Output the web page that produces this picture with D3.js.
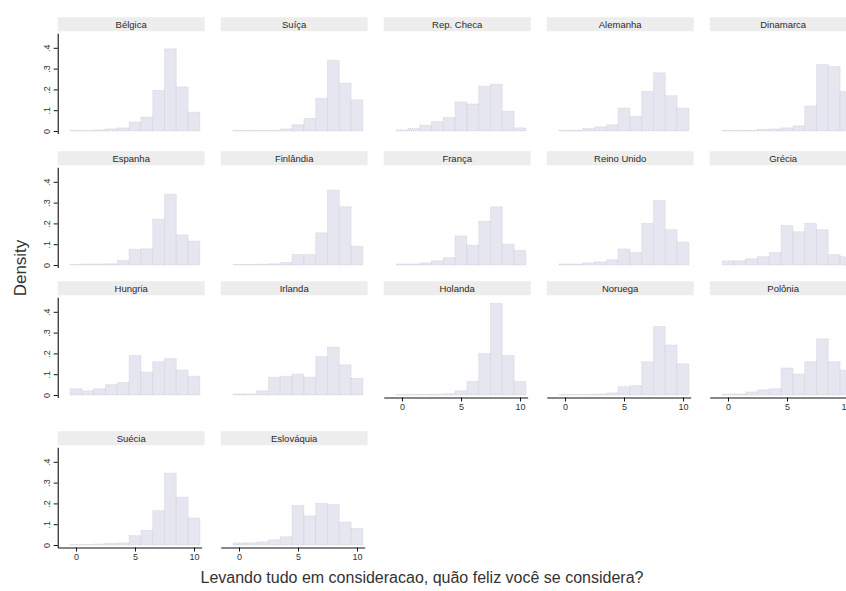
<!DOCTYPE html>
<html>
<head>
<meta charset="utf-8">
<script src="https://cdn.jsdelivr.net/npm/d3@7"></script>
<style>
  html, body { margin: 0; padding: 0; background: #ffffff; }
  svg { display: block; font-family: "Liberation Sans", Arial, Helvetica, sans-serif; }
</style>
</head>
<body>
<script>
// Happiness scores 0..10, density per score, one histogram per country
const scores = [0, 1, 2, 3, 4, 5, 6, 7, 8, 9, 10];

const belgica     = [0.003, 0.002, 0.005, 0.010, 0.015, 0.043, 0.067, 0.195, 0.395, 0.212, 0.090];
const suica       = [0.003, 0.003, 0.003, 0.003, 0.010, 0.030, 0.060, 0.157, 0.340, 0.230, 0.150];
const repCheca    = [0.005, 0.012, 0.028, 0.045, 0.065, 0.140, 0.130, 0.215, 0.225, 0.095, 0.015];
const alemanha    = [0.003, 0.004, 0.012, 0.020, 0.030, 0.110, 0.070, 0.190, 0.280, 0.170, 0.110];
const dinamarca   = [0.003, 0.003, 0.003, 0.008, 0.010, 0.015, 0.025, 0.120, 0.320, 0.310, 0.190];
const espanha     = [0.003, 0.005, 0.005, 0.006, 0.022, 0.075, 0.078, 0.220, 0.340, 0.145, 0.115];
const finlandia   = [0.002, 0.003, 0.004, 0.006, 0.012, 0.050, 0.050, 0.155, 0.360, 0.280, 0.090];
const franca      = [0.005, 0.005, 0.010, 0.020, 0.035, 0.140, 0.095, 0.210, 0.280, 0.100, 0.070];
const reinoUnido  = [0.005, 0.005, 0.010, 0.015, 0.025, 0.077, 0.060, 0.200, 0.310, 0.170, 0.110];
const grecia      = [0.020, 0.020, 0.030, 0.040, 0.060, 0.190, 0.160, 0.200, 0.170, 0.050, 0.040];
const hungria     = [0.030, 0.020, 0.030, 0.050, 0.060, 0.190, 0.110, 0.160, 0.175, 0.120, 0.090];
const irlanda     = [0.005, 0.005, 0.020, 0.085, 0.090, 0.100, 0.085, 0.185, 0.230, 0.145, 0.080];
const holanda     = [0.002, 0.002, 0.003, 0.004, 0.006, 0.020, 0.065, 0.200, 0.440, 0.190, 0.065];
const noruega     = [0.002, 0.002, 0.003, 0.005, 0.010, 0.040, 0.045, 0.160, 0.330, 0.240, 0.150];
const polonia     = [0.005, 0.005, 0.015, 0.025, 0.030, 0.130, 0.100, 0.160, 0.270, 0.160, 0.120];
const suecia      = [0.002, 0.002, 0.005, 0.008, 0.010, 0.045, 0.070, 0.165, 0.345, 0.230, 0.130];
const eslovaquia  = [0.010, 0.010, 0.015, 0.025, 0.040, 0.190, 0.140, 0.200, 0.195, 0.110, 0.080];

const countryNames = ["Bélgica", "Suíça", "Rep. Checa", "Alemanha", "Dinamarca",
                      "Espanha", "Finlândia", "França", "Reino Unido", "Grécia",
                      "Hungria", "Irlanda", "Holanda", "Noruega", "Polônia",
                      "Suécia", "Eslováquia"];
const countryValues = [belgica, suica, repCheca, alemanha, dinamarca,
                       espanha, finlandia, franca, reinoUnido, grecia,
                       hungria, irlanda, holanda, noruega, polonia,
                       suecia, eslovaquia];

const yTicks = [0, 0.1, 0.2, 0.3, 0.4];
const yTickLabels = ["0", ".1", ".2", ".3", ".4"];
const xTicks = [0, 5, 10];

const yTitle = "Density";
const xTitle = "Levando tudo em consideracao, quão feliz você se considera?";

// panels that carry an x axis (bottom of each column)
const withXAxis = new Set([12, 13, 14, 15, 16]);

// ---- layout ----
const W = 846, H = 591;
const colZero = [76, 239, 402, 565, 728];   // pixel position of score 0 per column
const rowZero = [131, 265, 395, 545];       // pixel position of density 0 per row
const pxPerScore = 11.8;
const pxPerDensity = 208;
const xLo = -1.55, xHi = 10.65;             // plot region in score units
const yLo = -0.012, yHi = 0.47;             // plot region in density units

const svg = d3.select("body").append("svg")
  .attr("width", W).attr("height", H);

countryNames.forEach((name, i) => {
  const r = Math.floor(i / 5), c = i % 5;
  const vals = countryValues[i];

  const x = d3.scaleLinear()
    .domain([xLo, xHi])
    .range([colZero[c] + xLo * pxPerScore, colZero[c] + xHi * pxPerScore]);
  const y = d3.scaleLinear()
    .domain([yLo, yHi])
    .range([rowZero[r] - yLo * pxPerDensity, rowZero[r] - yHi * pxPerDensity]);

  const g = svg.append("g");

  // title strip
  const stripX = x(xLo), stripW = x(10.9) - x(xLo);
  const stripBottom = y(yHi) - 2;
  g.append("rect")
    .attr("x", stripX).attr("y", stripBottom - 14)
    .attr("width", stripW).attr("height", 14)
    .attr("fill", "#ededed");
  g.append("text")
    .attr("x", stripX + stripW / 2).attr("y", stripBottom - 7)
    .attr("dy", "0.35em")
    .attr("text-anchor", "middle")
    .attr("font-size", 9.5)
    .attr("fill", "#2a2a2a")
    .text(name);

  // bars
  g.selectAll("rect.bar")
    .data(scores.map((s, k) => ({ s, v: vals[k] })))
    .join("rect")
    .attr("class", "bar")
    .attr("x", d => x(d.s - 0.5))
    .attr("width", d => x(d.s + 0.5) - x(d.s - 0.5))
    .attr("y", d => y(d.v))
    .attr("height", d => y(0) - y(d.v))
    .attr("fill", "#e6e6f1")
    .attr("stroke", "#c4c4d4")
    .attr("stroke-width", 0.6)
    .attr("stroke-dasharray", "1,1");

  // y axis on the first column
  if (c === 0) {
    const ya = g.append("g")
      .attr("transform", `translate(${x(xLo)},0)`)
      .call(d3.axisLeft(y).tickValues(yTicks)
        .tickFormat((d, k) => yTickLabels[k])
        .tickSize(4).tickSizeOuter(0));
    ya.select(".domain").attr("stroke", "#111").attr("stroke-width", 1.1);
    ya.selectAll(".tick line").attr("stroke", "#111");
    ya.selectAll(".tick text")
      .attr("transform", "rotate(-90)")
      .attr("x", 0).attr("y", -8).attr("dy", 0)
      .attr("text-anchor", "middle")
      .attr("font-size", 9)
      .attr("font-family", "Liberation Sans, Arial, sans-serif")
      .attr("fill", "#333");
  }

  // x axis on the bottom panel of each column
  if (withXAxis.has(i)) {
    const xa = g.append("g")
      .attr("transform", `translate(0,${y(yLo)})`)
      .call(d3.axisBottom(x).tickValues(xTicks)
        .tickSize(4).tickSizeOuter(0));
    xa.select(".domain").attr("stroke", "#111").attr("stroke-width", 1.1);
    xa.selectAll(".tick line").attr("stroke", "#111");
    xa.selectAll(".tick text")
      .attr("y", 6).attr("dy", "0.71em")
      .attr("font-size", 9)
      .attr("font-family", "Liberation Sans, Arial, sans-serif")
      .attr("fill", "#333");
  }
});

// axis titles
svg.append("text")
  .attr("transform", "translate(26,268) rotate(-90)")
  .attr("text-anchor", "middle")
  .attr("font-size", 17)
  .attr("fill", "#333")
  .text(yTitle);

svg.append("text")
  .attr("x", 422).attr("y", 583)
  .attr("text-anchor", "middle")
  .attr("font-size", 16)
  .attr("fill", "#333")
  .text(xTitle);
</script>
</body>
</html>
